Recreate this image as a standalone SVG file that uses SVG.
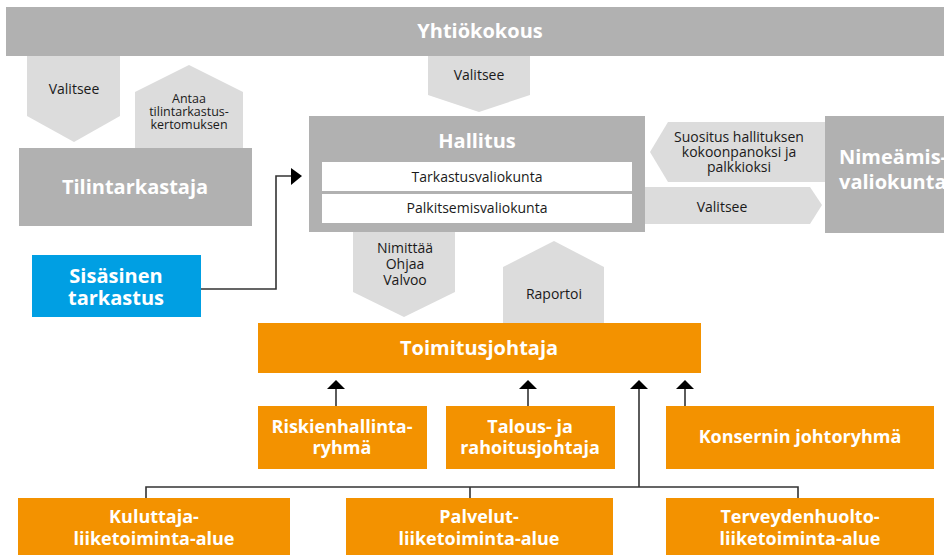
<svg xmlns="http://www.w3.org/2000/svg" width="944" height="555" viewBox="0 0 944 555">
<style>
.gray{fill:#b1b1b1}
.lite{fill:#dcdcdc}
.org{fill:#f39200}
.blue{fill:#009fe3}
.wbox{fill:#ffffff}
.t{font-family:"Open Sans","Noto Sans","DejaVu Sans",sans-serif;text-anchor:middle}
.big{font-size:20px;font-weight:bold;fill:#ffffff}
.sm{font-size:14px;fill:#1a1a1a}
.xs{font-size:12.5px;fill:#1a1a1a}
.ln{fill:none;stroke:#333333;stroke-width:1.6}
.ah{fill:#000000}
</style>
<rect width="944" height="555" fill="#ffffff"/>
<g id="yhtiokokous">
<rect class="gray" x="6" y="7" width="938" height="49"/>
<text class="t big" x="480" y="38">Yhtiökokous</text>
</g>
<g id="valitsee-tilintarkastaja">
<polygon class="lite" points="27,56 120,56 120,116 74,142 27,116"/>
<text class="t sm" x="74" y="94">Valitsee</text>
</g>
<g id="antaa">
<polygon class="lite" points="135,148 135,92 189,65 243,92 243,148"/>
<text class="t xs" x="189" y="103">Antaa</text>
<text class="t xs" x="189" y="116">tilintarkastus-</text>
<text class="t xs" x="189" y="129">kertomuksen</text>
</g>
<g id="tilintarkastaja">
<rect class="gray" x="19" y="148" width="233" height="78"/>
<text class="t big" x="135" y="194">Tilintarkastaja</text>
</g>
<g id="valitsee-hallitus">
<polygon class="lite" points="428,56 530,56 530,95 479,112 428,95"/>
<text class="t sm" x="479" y="80">Valitsee</text>
</g>
<g id="hallitus">
<rect class="gray" x="309" y="116" width="336" height="116"/>
<text class="t big" x="477" y="148">Hallitus</text>
<rect class="wbox" x="322" y="162" width="310" height="29"/>
<text class="t sm" x="477" y="182">Tarkastusvaliokunta</text>
<rect class="wbox" x="322" y="194" width="310" height="29"/>
<text class="t sm" x="477" y="213">Palkitsemisvaliokunta</text>
</g>
<g id="suositus">
<polygon class="lite" points="825,122 668,122 650,152 668,182 825,182"/>
<text class="t sm" x="739" y="142">Suositus hallituksen</text>
<text class="t sm" x="739" y="157">kokoonpanoksi ja</text>
<text class="t sm" x="739" y="172">palkkioksi</text>
</g>
<g id="valitsee-nimeamis">
<polygon class="lite" points="645,187 810,187 822,205 810,224 645,224"/>
<text class="t sm" x="722" y="212">Valitsee</text>
</g>
<g id="nimeamisvaliokunta">
<rect class="gray" x="825" y="116" width="119" height="117"/>
<text class="t big" x="839" y="164" style="text-anchor:start">Nimeämis-</text>
<text class="t big" x="839" y="189" style="text-anchor:start">valiokunta</text>
</g>
<g id="sisainen-tarkastus">
<rect class="blue" x="32" y="255" width="169" height="62"/>
<text class="t big" x="116" y="283">Sisäsinen</text>
<text class="t big" x="116" y="305">tarkastus</text>
</g>
<g id="nimittaa">
<polygon class="lite" points="353,232 455,232 455,292 404,317 353,292"/>
<text class="t sm" x="405" y="253">Nimittää</text>
<text class="t sm" x="405" y="269">Ohjaa</text>
<text class="t sm" x="405" y="285">Valvoo</text>
</g>
<g id="raportoi">
<polygon class="lite" points="503,323 503,267 554,241 604,267 604,323"/>
<text class="t sm" x="554" y="299">Raportoi</text>
</g>
<g id="toimitusjohtaja">
<rect class="org" x="258" y="323" width="443" height="50"/>
<text class="t big" x="479" y="355">Toimitusjohtaja</text>
</g>
<g id="riskienhallintaryhma">
<rect class="org" x="258" y="406" width="169" height="63"/>
<text class="t big" x="342" y="433" style="font-size:18px">Riskienhallinta-</text>
<text class="t big" x="342" y="454" style="font-size:18px">ryhmä</text>
</g>
<g id="talous">
<rect class="org" x="446" y="406" width="169" height="63"/>
<text class="t big" x="530" y="433" style="font-size:18px">Talous- ja</text>
<text class="t big" x="530" y="454" style="font-size:18px">rahoitusjohtaja</text>
</g>
<g id="konsernin-johtoryhma">
<rect class="org" x="666" y="406" width="268" height="63"/>
<text class="t big" x="800" y="443" style="font-size:18px">Konsernin johtoryhmä</text>
</g>
<g id="kuluttaja">
<rect class="org" x="18" y="498" width="272" height="57"/>
<text class="t big" x="154" y="523" style="font-size:18px">Kuluttaja-</text>
<text class="t big" x="154" y="545" style="font-size:18px">liiketoiminta-alue</text>
</g>
<g id="palvelut">
<rect class="org" x="346" y="498" width="267" height="57"/>
<text class="t big" x="479" y="523" style="font-size:18px">Palvelut-</text>
<text class="t big" x="479" y="545" style="font-size:18px">liiketoiminta-alue</text>
</g>
<g id="terveydenhuolto">
<rect class="org" x="666" y="498" width="268" height="57"/>
<text class="t big" x="800" y="523" style="font-size:18px">Terveydenhuolto-</text>
<text class="t big" x="800" y="545" style="font-size:18px">liiketoiminta-alue</text>
</g>
<g id="connectors">
<polyline class="ln" points="201,289 276,289 276,176 292,176"/>
<polygon class="ah" points="291,168 302,176 291,185"/>
<line class="ln" x1="336" y1="406" x2="336" y2="388"/>
<polygon class="ah" points="327,389 336,380 345,389"/>
<line class="ln" x1="528" y1="406" x2="528" y2="388"/>
<polygon class="ah" points="519,389 528,380 537,389"/>
<line class="ln" x1="685" y1="406" x2="685" y2="388"/>
<polygon class="ah" points="676,389 685,380 694,389"/>
<line class="ln" x1="639" y1="487" x2="639" y2="388"/>
<polygon class="ah" points="630,389 639,380 648,389"/>
<polyline class="ln" points="146,498 146,487 798,487 798,498"/>
<line class="ln" x1="470" y1="487" x2="470" y2="498"/>
</g>
</svg>
